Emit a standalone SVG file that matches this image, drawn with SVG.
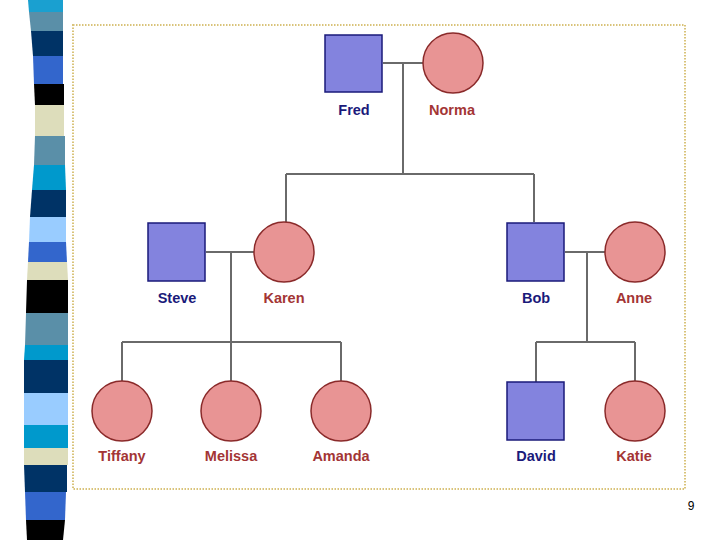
<svg xmlns="http://www.w3.org/2000/svg" width="720" height="540" viewBox="0 0 720 540">
<style>
.m{fill:#8383de;stroke:#1a1a7a;stroke-width:1.5}
.f{fill:#e89494;stroke:#8a2a2a;stroke-width:1.5}
.lm{font-family:"Liberation Sans",Arial,sans-serif;font-weight:bold;font-size:14.5px;fill:#1a1a7a;text-anchor:middle}
.lf{font-family:"Liberation Sans",Arial,sans-serif;font-weight:bold;font-size:14.5px;fill:#a33535;text-anchor:middle}
.c{stroke:#6a6a6a;stroke-width:2;fill:none}
</style>
<rect width="720" height="540" fill="#ffffff"/>
<g id="strip">
<polygon points="28,0 63,0 63,12 29,12" fill="#1aa0d0"/>
<polygon points="29,12 63,12 63,31 31,31" fill="#5a8fa8"/>
<polygon points="31,31 63,31 63,56 33,56" fill="#003366"/>
<polygon points="33,56 63,56 63,84 34,84" fill="#3366cc"/>
<polygon points="34,84 64,84 64,105 35,105" fill="#000000"/>
<polygon points="35,105 64,105 64,136 35,136" fill="#ddddbb"/>
<polygon points="35,136 65,136 65,165 34,165" fill="#5a8fa8"/>
<polygon points="34,165 65,165 66,190 32,190" fill="#0099cc"/>
<polygon points="32,190 66,190 66,217 30,217" fill="#003366"/>
<polygon points="30,217 66,217 66,242 29,242" fill="#99ccff"/>
<polygon points="29,242 66,242 67,262 28,262" fill="#3366cc"/>
<polygon points="28,262 67,262 68,280 27,280" fill="#ddddbb"/>
<polygon points="27,280 68,280 68,313 26,313" fill="#000000"/>
<polygon points="26,313 68,313 68,345 25,345" fill="#5a8fa8"/>
<polygon points="25,345 68,345 68,360 24,360" fill="#0099cc"/>
<polygon points="24,360 68,360 68,393 24,393" fill="#003366"/>
<polygon points="24,393 68,393 68,425 24,425" fill="#99ccff"/>
<polygon points="24,425 68,425 68,448 24,448" fill="#0099cc"/>
<polygon points="24,448 68,448 68,465 24,465" fill="#ddddbb"/>
<polygon points="24,465 67,465 67,492 25,492" fill="#003366"/>
<polygon points="25,492 66,492 65,520 26,520" fill="#3366cc"/>
<polygon points="26,520 65,520 63,540 27,540" fill="#000000"/>
</g>
<rect x="73" y="25" width="612" height="464" fill="none" stroke="#d9c37a" stroke-width="2" stroke-dasharray="1.5,1.5"/>
<g id="connectors">
<path class="c" d="M383,63 H423 M403,63 V174 M286,174 H534 M286,174 V222 M534,174 V222"/>
<path class="c" d="M206,252 H254 M231,252 V342 M122,342 H341 M122,342 V381 M231,342 V381 M341,342 V381"/>
<path class="c" d="M565,252 H605 M587,252 V342 M536,342 H635 M536,342 V382 M635,342 V381"/>
</g>
<g id="fred"><rect class="m" x="325" y="35" width="57" height="57"/><text class="lm" x="354" y="115">Fred</text></g>
<g id="norma"><circle class="f" cx="453" cy="63" r="30"/><text class="lf" x="452" y="115">Norma</text></g>
<g id="steve"><rect class="m" x="148" y="223" width="57" height="58"/><text class="lm" x="177" y="303">Steve</text></g>
<g id="karen"><circle class="f" cx="284" cy="252" r="30"/><text class="lf" x="284" y="303">Karen</text></g>
<g id="bob"><rect class="m" x="507" y="223" width="57" height="58"/><text class="lm" x="536" y="303">Bob</text></g>
<g id="anne"><circle class="f" cx="635" cy="252" r="30"/><text class="lf" x="634" y="303">Anne</text></g>
<g id="tiffany"><circle class="f" cx="122" cy="411" r="30"/><text class="lf" x="122" y="461">Tiffany</text></g>
<g id="melissa"><circle class="f" cx="231" cy="411" r="30"/><text class="lf" x="231" y="461">Melissa</text></g>
<g id="amanda"><circle class="f" cx="341" cy="411" r="30"/><text class="lf" x="341" y="461">Amanda</text></g>
<g id="david"><rect class="m" x="507" y="382" width="57" height="58"/><text class="lm" x="536" y="461">David</text></g>
<g id="katie"><circle class="f" cx="635" cy="411" r="30"/><text class="lf" x="634" y="461">Katie</text></g>
<text x="691" y="510" font-family="Liberation Sans,Arial,sans-serif" font-size="12" text-anchor="middle" fill="#000">9</text>
</svg>
